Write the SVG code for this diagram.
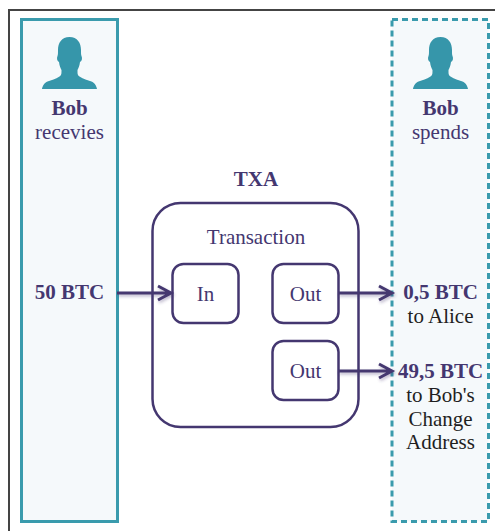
<svg xmlns="http://www.w3.org/2000/svg" width="495" height="531" viewBox="0 0 495 531">
<style>
text{font-family:"Liberation Serif","Times New Roman",serif;font-size:21px;text-anchor:middle;fill:#443770}
.b{font-weight:bold}
.k{fill:#1f1f1f}
.box{fill:#fff;stroke:#443770;stroke-width:2.5}
.panel{fill:#f5f9fb;stroke:#3a9bad;stroke-width:3}
.person{fill:#3696aa}
.conn{fill:none;stroke:#443770;stroke-width:3}
</style>
<defs>
<filter id="sh" x="-20%" y="-100%" width="140%" height="300%"><feDropShadow dx="1" dy="2" stdDeviation="1.5" flood-color="#443770" flood-opacity="0.35"/></filter>
<path id="p" d="M0-52C-8-52-11.500-46-11.500-39C-11.500-36-11.500-34-12-33C-13-31-12.500-28-10.500-27C-10-23-9-21-8-19C-8-15-8-14-10-12.500C-14-10-18-9-22-7.500C-25-6.500-27-3-27.500 0H27.500C27-3 25-6.500 22-7.500C18-9 14-10 10-12.500C8-14 8-15 8-19C9-21 10-23 10.500-27C12.500-28 13-31 12-33C11.500-34 11.500-36 11.500-39C11.500-46 8-52 0-52Z"/>
</defs>
<path d="M495 10H9V531" fill="none" stroke="#444" stroke-width="2"/>
<g id="bob-receives">
<rect class="panel" x="21.500" y="19.500" width="96" height="502"/>
<use href="#p" class="person" x="69.500" y="89"/>
<text class="b" x="69.500" y="115">Bob</text>
<text x="69.500" y="139">recevies</text>
<text class="b" x="69.500" y="299">50 BTC</text>
</g>
<g id="bob-spends">
<rect class="panel" x="392" y="19.500" width="96.500" height="502" stroke-dasharray="6 4"/>
<use href="#p" class="person" x="440.500" y="89"/>
<text class="b" x="440.500" y="115">Bob</text>
<text x="440.500" y="139">spends</text>
<text class="b" x="440.500" y="299">0,5 BTC</text>
<text class="k" x="440.500" y="323">to Alice</text>
<text class="b" x="440.500" y="378">49,5 BTC</text>
<text class="k" x="440.500" y="402">to Bob's</text>
<text class="k" x="440.500" y="426">Change</text>
<text class="k" x="440.500" y="449">Address</text>
</g>
<g id="txa">
<text class="b" x="256" y="186">TXA</text>
<rect class="box" x="152.500" y="203" width="206" height="224" rx="28"/>
<text x="256" y="244">Transaction</text>
</g>
<g id="in"><rect class="box" x="172.500" y="264" width="66" height="59" rx="11"/><text x="205.500" y="301">In</text></g>
<g id="out-1"><rect class="box" x="272.500" y="264" width="66" height="59" rx="11"/><text x="305.500" y="301">Out</text></g>
<g id="out-2"><rect class="box" x="272.500" y="341" width="66" height="59" rx="11"/><text x="305.500" y="378">Out</text></g>
<g id="connectors" class="conn" filter="url(#sh)">
<path d="M117 293H171M158 286L171 293L158 300"/>
<path d="M338 293H392M379 286L392 293L379 300"/>
<path d="M338 371H392M379 364L392 371L379 378"/>
</g>
</svg>
